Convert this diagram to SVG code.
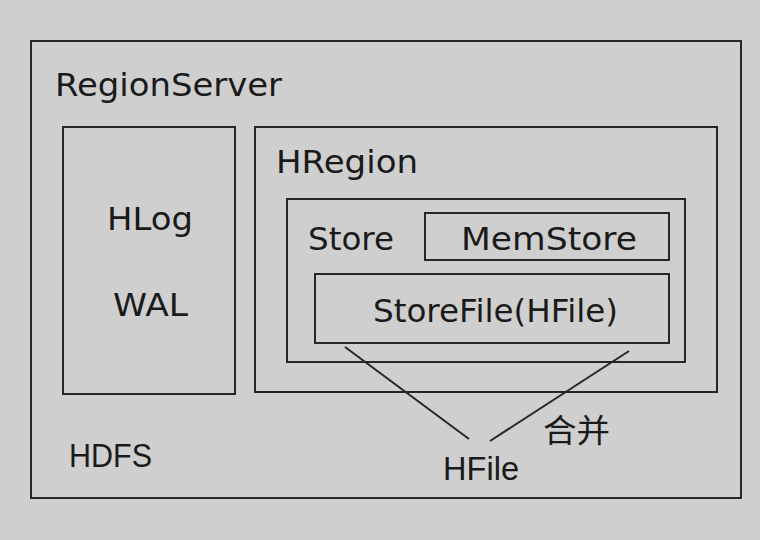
<svg xmlns="http://www.w3.org/2000/svg" width="760" height="540" viewBox="0 0 760 540">
<style>
.box{fill:none;stroke:#262626;stroke-width:2}
.t{font-family:"DejaVu Sans","Liberation Sans",sans-serif;font-size:32px;fill:#1a1a1a}
.a{font-family:"Liberation Sans",Arial,sans-serif;font-size:33px;fill:#1a1a1a}
.c{font-family:"Noto Sans CJK SC","Liberation Sans",sans-serif;font-size:32px;fill:#1a1a1a}
.ln{stroke:#262626;stroke-width:2;fill:none}
</style>
<rect width="760" height="540" fill="#cfcfcf"/>
<g id="regionserver">
<rect class="box" x="31" y="41" width="710" height="457"/>
<text class="t" x="55" y="96" textLength="227" lengthAdjust="spacingAndGlyphs">RegionServer</text>
</g>
<g id="hlog">
<rect class="box" x="63" y="127" width="172" height="267"/>
<text class="t" x="107" y="230" textLength="86" lengthAdjust="spacingAndGlyphs">HLog</text>
<text class="t" x="113" y="316" textLength="75" lengthAdjust="spacingAndGlyphs">WAL</text>
</g>
<g id="hregion">
<rect class="box" x="255" y="127" width="462" height="265"/>
<text class="t" x="276" y="173" textLength="142" lengthAdjust="spacingAndGlyphs">HRegion</text>
</g>
<g id="store">
<rect class="box" x="287" y="199" width="398" height="163"/>
<text class="t" x="308" y="250" textLength="86" lengthAdjust="spacingAndGlyphs">Store</text>
</g>
<g id="memstore">
<rect class="box" x="425" y="213" width="244" height="47"/>
<text class="t" x="461" y="250" textLength="176" lengthAdjust="spacingAndGlyphs">MemStore</text>
</g>
<g id="storefile">
<rect class="box" x="315" y="274" width="354" height="69"/>
<text class="t" x="373" y="322" textLength="245" lengthAdjust="spacingAndGlyphs">StoreFile(HFile)</text>
</g>
<g id="hdfs">
<text class="a" x="69" y="467" textLength="83" lengthAdjust="spacingAndGlyphs">HDFS</text>
</g>
<g id="hfile">
<text class="a" x="443" y="480" textLength="76" lengthAdjust="spacingAndGlyphs">HFile</text>
</g>
<g id="connectors">
<line class="ln" x1="345" y1="347" x2="469" y2="439"/>
<line class="ln" x1="629" y1="351" x2="490" y2="441"/>
</g>
<g id="merge-label">
<text class="c" x="543" y="442" textLength="67" lengthAdjust="spacingAndGlyphs">合并</text>
</g>
</svg>
